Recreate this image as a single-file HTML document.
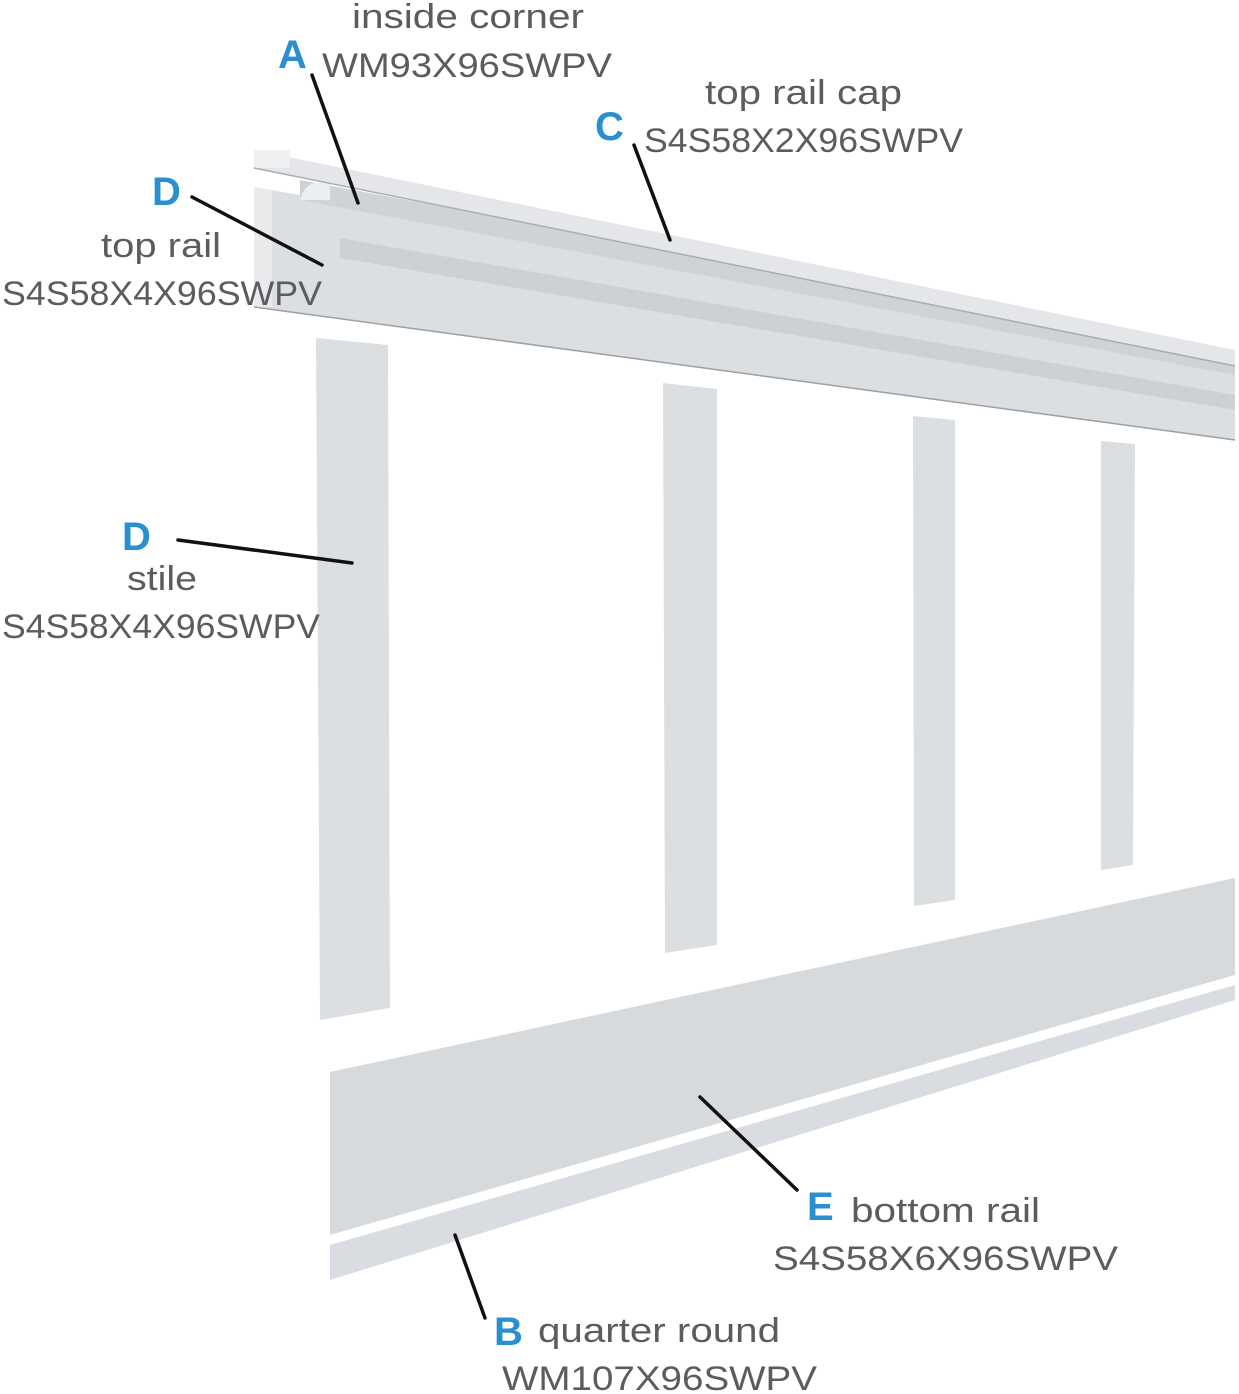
<!DOCTYPE html>
<html><head><meta charset="utf-8"><style>html,body{margin:0;padding:0;background:#fff}svg{display:block}</style></head>
<body>
<svg width="1239" height="1394" viewBox="0 0 1239 1394" xmlns="http://www.w3.org/2000/svg">
<defs>
<linearGradient id="rail" x1="0" y1="0" x2="0" y2="1">
<stop offset="0" stop-color="#e2e4e7"/><stop offset="0.45" stop-color="#d0d3d7"/><stop offset="0.6" stop-color="#dcdfe2"/><stop offset="1" stop-color="#d8dbdf"/>
</linearGradient>
</defs>
<!-- top rail -->
<polygon points="254,187 1235,358 1235,440 254,307" fill="#dcdfe2"/>
<polygon points="340,238 1235,395 1235,410 340,258" fill="#c9cdd2" opacity="0.8"/>
<polygon points="254,187 272,190 272,307 254,307" fill="#e8eaec"/>
<line x1="254" y1="307" x2="1235" y2="440" stroke="#9aa0a6" stroke-width="1.5"/>
<!-- inside corner -->
<polygon points="300,180 1235,355 1235,375 300,200" fill="#cfd2d6"/>
<path d="M300,200 Q305,178 330,183 L330,200 Z" fill="#eceef0"/>
<!-- cap -->
<polygon points="254,150 1235,350 1235,366 254,168" fill="#e4e6e9"/>
<polygon points="254,150 290,150 290,168 254,168" fill="#eef0f2"/>
<line x1="254" y1="168" x2="1235" y2="366" stroke="#a9aeb3" stroke-width="1.5"/>
<!-- stiles -->
<polygon points="316,338 388,345 390,1008 320,1020" fill="#dcdfe2"/>
<polygon points="663,383 717,389 717,945 665,953" fill="#dcdfe2"/>
<polygon points="913,416 955,420 955,900 914,906" fill="#dcdfe2"/>
<polygon points="1101,441 1135,444 1133,865 1101,870" fill="#dcdfe2"/>
<!-- bottom rail -->
<polygon points="330,1072 1235,878 1235,975 330,1235" fill="#d7dadd"/>
<!-- quarter round -->
<polygon points="330,1245 1235,985 1235,1000 330,1280" fill="#d9dce0"/>
<!-- leader lines -->
<g stroke="#111" stroke-width="3.5" stroke-linecap="round">
<line x1="312" y1="75" x2="358" y2="203"/>
<line x1="634" y1="145" x2="670" y2="240"/>
<line x1="192" y1="197" x2="322" y2="265"/>
<line x1="178" y1="540" x2="352" y2="563"/>
<line x1="700" y1="1097" x2="797" y2="1190"/>
<line x1="455" y1="1235" x2="485" y2="1318"/>
</g>
<g font-family="Liberation Sans, sans-serif" font-size="34" fill="#5a5c60">
<text x="352" y="28" textLength="232" lengthAdjust="spacingAndGlyphs">inside corner</text>
<text x="322" y="77" textLength="290" lengthAdjust="spacingAndGlyphs">WM93X96SWPV</text>
<text x="705" y="104" textLength="197" lengthAdjust="spacingAndGlyphs">top rail cap</text>
<text x="644" y="152" textLength="319" lengthAdjust="spacingAndGlyphs">S4S58X2X96SWPV</text>
<text x="101" y="257" textLength="120" lengthAdjust="spacingAndGlyphs">top rail</text>
<text x="2" y="305" textLength="320" lengthAdjust="spacingAndGlyphs">S4S58X4X96SWPV</text>
<text x="127" y="590" textLength="70" lengthAdjust="spacingAndGlyphs">stile</text>
<text x="2" y="638" textLength="318" lengthAdjust="spacingAndGlyphs">S4S58X4X96SWPV</text>
<text x="851" y="1222" textLength="189" lengthAdjust="spacingAndGlyphs">bottom rail</text>
<text x="773" y="1270" textLength="345" lengthAdjust="spacingAndGlyphs">S4S58X6X96SWPV</text>
<text x="538" y="1342" textLength="242" lengthAdjust="spacingAndGlyphs">quarter round</text>
<text x="502" y="1390" textLength="315" lengthAdjust="spacingAndGlyphs">WM107X96SWPV</text>
</g>
<g font-family="Liberation Sans, sans-serif" font-size="40" font-weight="bold" fill="#2a8fd0">
<text x="278" y="68">A</text>
<text x="595" y="140">C</text>
<text x="152" y="205">D</text>
<text x="122" y="550">D</text>
<text x="807" y="1220">E</text>
<text x="494" y="1345">B</text>
</g>
</svg>
</body></html>
